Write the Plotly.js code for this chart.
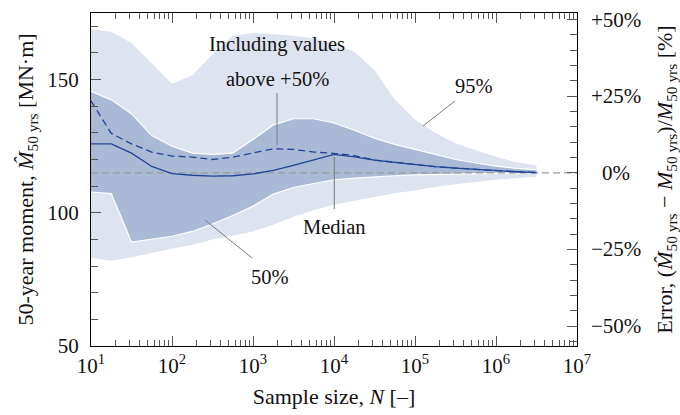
<!DOCTYPE html>
<html>
<head>
<meta charset="utf-8">
<script src="https://cdn.plot.ly/plotly-3.0.1.min.js"></script>
<style>html,body{margin:0;padding:0;background:#fff}#chart{width:680px;height:415px}</style>
</head>
<body>
<div id="chart"></div>
<script>
// ---- data ----
const sampleSize = [10, 17.8, 31.6, 56.2, 100, 178, 316, 562, 1000, 1780, 3160, 5620, 10000,
  17800, 31600, 56200, 100000, 178000, 316000, 562000, 1000000, 1780000, 3160000];
const upper95 = [169, 168, 163.7, 156, 148.4, 151.5, 159.5, 166.5, 167.5, 167, 166.5, 165.5, 163.5,
  160.5, 153.5, 142.5, 135, 130, 126, 123.5, 121, 119, 117.8];
const lower95 = [83, 82, 83.3, 85, 86.5, 88, 90, 91.5, 93, 95.5, 98.5, 101, 103,
  104.5, 106, 107.3, 108.4, 109.7, 110.7, 111.6, 112.4, 113, 113.5];
const upper50 = [145.6, 142.4, 137.2, 129, 125, 122.4, 121.9, 122.4, 127.5, 133, 135.3, 135.3, 133.7,
  131, 128, 125.7, 123.8, 121.8, 120, 118.7, 117.5, 116.7, 116.2];
const lower50 = [107.8, 107.2, 89, 90, 91.2, 93, 95.8, 99, 102.5, 107, 109.5, 111, 112.4,
  113, 113.5, 113.9, 114.2, 114.4, 114.6, 114.7, 114.8, 114.9, 114.9];
const median = [125.9, 125.9, 122.4, 117.4, 114.7, 114.1, 113.8, 113.9, 114.6, 115.9, 117.8, 119.9, 121.9,
  121, 119.8, 118.9, 118, 117.3, 116.8, 116.3, 115.8, 115.4, 115.1];
const meanInclOutliers = [142, 129.8, 125.9, 122.8, 121.3, 120.9, 120, 120.9, 122.5, 124, 123.8, 122.8, 122.3,
  121.5, 119.8, 118.9, 118, 117.3, 116.8, 116.3, 115.8, 115.4, 115.1];
const trueMoment = 115;

const xTickVals = [1e1, 1e2, 1e3, 1e4, 1e5, 1e6, 1e7];
const xTickText = ['10<sup>1</sup>', '10<sup>2</sup>', '10<sup>3</sup>', '10<sup>4</sup>', '10<sup>5</sup>', '10<sup>6</sup>', '10<sup>7</sup>'];
const yTickVals = [50, 100, 150];
const errTickVals = [-50, -25, 0, 25, 50];
const errTickText = ['\u221250%', '\u221225%', '0%', '+25%', '+50%'];

const xRange = [10, 1e7];
const yRange = [50, 175];

// ---- styles ----
const FONT = '"Liberation Serif", "Times New Roman", serif';
const LIGHT = '#dde3ef';
const DARK = '#aab9d5';
const NAVY = '#1f4596';
const GREY = '#999999';
const LEADER = '#7a7a7a';
const TICKC = '#555';

const traces = [
  {x: sampleSize, y: upper95, type: 'scatter', mode: 'lines', line: {width: 0, color: LIGHT}, hoverinfo: 'skip', showlegend: false},
  {x: sampleSize, y: lower95, type: 'scatter', mode: 'lines', fill: 'tonexty', fillcolor: LIGHT, line: {width: 0, color: LIGHT}, hoverinfo: 'skip', showlegend: false},
  {x: sampleSize, y: upper50, type: 'scatter', mode: 'lines', line: {width: 1.2, color: '#ffffff'}, hoverinfo: 'skip', showlegend: false},
  {x: sampleSize, y: lower50, type: 'scatter', mode: 'lines', fill: 'tonexty', fillcolor: DARK, line: {width: 1.2, color: '#ffffff'}, hoverinfo: 'skip', showlegend: false},
  {x: xRange, y: [trueMoment, trueMoment], type: 'scatter', mode: 'lines', line: {width: 1.1, color: GREY, dash: '7px,4px'}, hoverinfo: 'skip', showlegend: false},
  {x: sampleSize, y: meanInclOutliers, type: 'scatter', mode: 'lines', line: {width: 1.3, color: NAVY, dash: '7px,4px'}, showlegend: false},
  {x: sampleSize, y: median, type: 'scatter', mode: 'lines', line: {width: 1.3, color: NAVY}, showlegend: false},
  // empty trace so the top (mirror) log axis with minor ticks is drawn
  {x: [], y: [], xaxis: 'x2', yaxis: 'y', type: 'scatter', mode: 'lines', showlegend: false, hoverinfo: 'skip'}
];

const L = 91, R = 577, T = 13, B = 346, W = 680, H = 415;
const px = v => (v - L) / (R - L);
const py = v => (B - v) / (B - T);

function txt(text, x, y, size) {
  return {text: text, xref: 'paper', yref: 'paper', x: px(x), y: py(y), xanchor: 'center', yanchor: 'middle',
    showarrow: false, font: {family: FONT, size: size || 20.5, color: '#111'}};
}
function leader(x0, y0, x1, y1) {
  return {type: 'line', xref: 'paper', yref: 'paper', x0: px(x0), y0: py(y0), x1: px(x1), y1: py(y1),
    line: {color: LEADER, width: 1}};
}

const annotations = [
  txt('Including values', 277, 44),
  txt('above +50%', 277, 79),
  txt('95%', 474, 86),
  txt('Median', 334.5, 227),
  txt('50%', 270, 277)
];
errTickVals.forEach((v, i) => {
  annotations.push({text: errTickText[i], xref: 'paper', yref: 'y2', x: px(616), y: v, xanchor: 'center', yanchor: 'middle',
    showarrow: false, font: {family: FONT, size: 21, color: '#111'}});
});

const shapes = [
  leader(277, 93, 277, 145),
  leader(455, 101, 423, 126),
  leader(334.3, 157, 334.3, 209),
  leader(205, 220, 252, 258)
];

const errRange = [(yRange[0] / trueMoment - 1) * 100, (yRange[1] / trueMoment - 1) * 100];
const logRange = [Math.log10(xRange[0]), Math.log10(xRange[1])];

const layout = {
  width: W, height: H,
  margin: {l: L, r: W - R, t: T, b: H - B, pad: 0},
  paper_bgcolor: '#fff', plot_bgcolor: '#fff',
  font: {family: FONT, size: 21, color: '#111'},
  showlegend: false,
  xaxis: {
    type: 'log', range: logRange,
    showgrid: false, zeroline: false, showline: true, linecolor: '#000', linewidth: 1, mirror: false,
    ticks: 'inside', ticklen: 10, tickcolor: TICKC, tickwidth: 1,
    tickmode: 'array', tickvals: xTickVals, ticktext: xTickText, ticklabelstandoff: 1,
    minor: {ticks: 'inside', ticklen: 6, tickcolor: TICKC, dtick: 'D1', showgrid: false},
    tickfont: {family: FONT, size: 21, color: '#111'},
    title: {text: 'Sample size, <i>N</i> [\u2013]', font: {family: FONT, size: 22, color: '#111'}, standoff: 11}
  },
  xaxis2: {
    type: 'log', range: logRange, overlaying: 'x', side: 'top', anchor: 'y',
    showgrid: false, zeroline: false, showline: true, linecolor: '#000', linewidth: 1,
    ticks: 'inside', ticklen: 10, tickcolor: TICKC, tickwidth: 1,
    tickmode: 'array', tickvals: xTickVals, showticklabels: false,
    minor: {ticks: 'inside', ticklen: 6, tickcolor: TICKC, dtick: 'D1', showgrid: false}
  },
  yaxis: {
    range: yRange, showgrid: false, zeroline: false, showline: true, linecolor: '#000', linewidth: 1, mirror: false,
    ticks: 'inside', ticklen: 10, tickcolor: TICKC, tickwidth: 1,
    tickmode: 'array', tickvals: yTickVals, ticklabelstandoff: 7,
    minor: {ticks: 'inside', ticklen: 7, tickcolor: TICKC, dtick: 10, showgrid: false},
    tickfont: {family: FONT, size: 21, color: '#111'},
    title: {text: '50-year moment, <i>M\u0302</i><sub>50 yrs</sub> [MN\u00b7m]', font: {family: FONT, size: 22, color: '#111'}, standoff: 7}
  },
  yaxis2: {
    overlaying: 'y', side: 'right', range: errRange,
    showgrid: false, zeroline: false, showline: true, linecolor: '#000', linewidth: 1,
    ticks: 'inside', ticklen: 10, tickcolor: TICKC, tickwidth: 1,
    tickmode: 'array', tickvals: errTickVals, showticklabels: false,
    minor: {ticks: 'inside', ticklen: 7, tickcolor: TICKC, dtick: 5, showgrid: false},
    title: {text: 'Error, (<i>M\u0302</i><sub>50 yrs</sub> \u2212 <i>M</i><sub>50 yrs</sub>)/<i>M</i><sub>50 yrs</sub> [%]', font: {family: FONT, size: 22, color: '#111'}, standoff: 80}
  },
  annotations: annotations,
  shapes: shapes
};

Plotly.newPlot('chart', traces, layout, {displayModeBar: false, staticPlot: true});
</script>
</body>
</html>
